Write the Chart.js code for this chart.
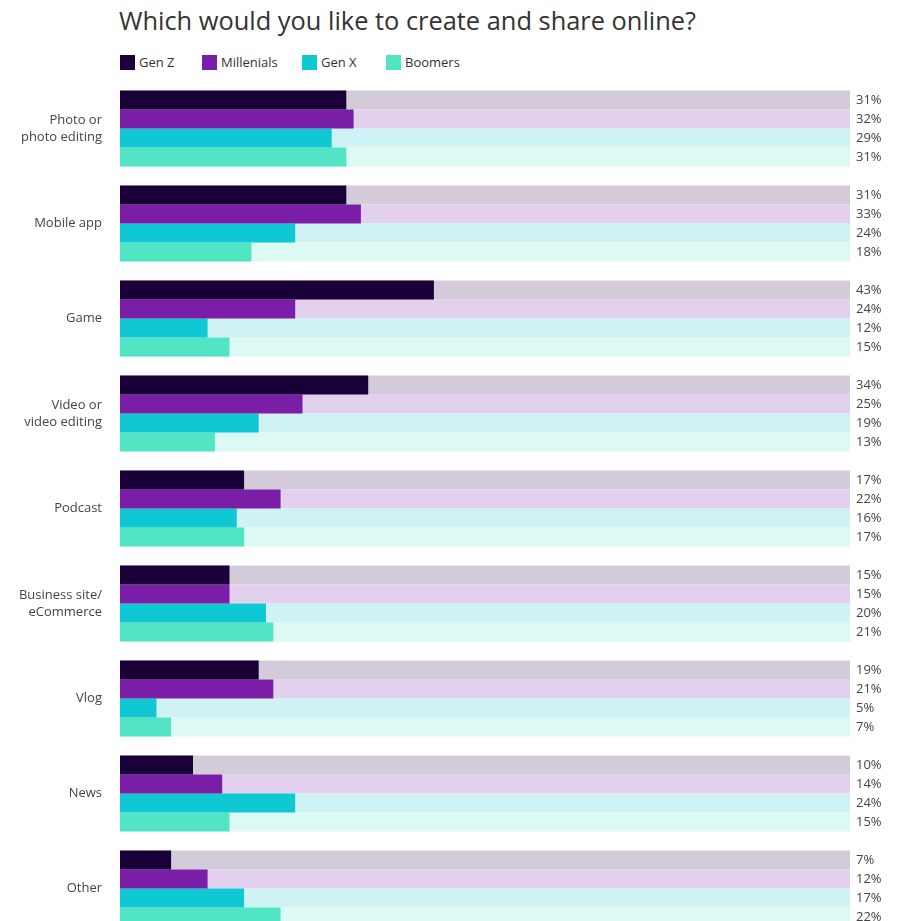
<!DOCTYPE html>
<html>
<head>
<meta charset="utf-8">
<script src="https://cdn.jsdelivr.net/npm/chart.js@4/dist/chart.umd.min.js"></script>
<style>
  html, body { margin: 0; padding: 0; background: #fff; overflow: hidden; }
  #wrap { position: relative; width: 899px; height: 971px; }
  #title { position: absolute; left: 119px; top: 3px; font: 25.4px "Open Sans", sans-serif; color: #333; white-space: nowrap; }
  #legend { position: absolute; left: 120px; top: 53px; font: 13px "Open Sans", sans-serif; color: #333; display: flex; }
  .item { display: flex; align-items: center; }
  .sw { width: 15px; height: 15px; margin-right: 4px; }
  canvas { position: absolute; left: 0; top: 0; }
</style>
</head>
<body>
<div id="wrap">
  <div id="title">Which would you like to create and share online?</div>
  <div id="legend"></div>
  <canvas id="c" width="899" height="971"></canvas>
</div>
<script>
const categories = [
  ['Photo or', 'photo editing'],
  'Mobile app',
  'Game',
  ['Video or', 'video editing'],
  'Podcast',
  ['Business site/', 'eCommerce'],
  'Vlog',
  'News',
  'Other'
];
const seriesNames = ['Gen Z', 'Millenials', 'Gen X', 'Boomers'];
const genZ       = [31, 31, 43, 34, 17, 15, 19, 10, 7];
const millenials = [32, 33, 24, 25, 22, 15, 21, 14, 12];
const genX       = [29, 24, 12, 19, 16, 20, 5, 24, 17];
const boomers    = [31, 18, 15, 13, 17, 21, 7, 15, 22];
const seriesValues = [genZ, millenials, genX, boomers];
const barColors   = ['#1a0038', '#7a1ea8', '#10c8d4', '#52e5c5'];
const trackColors = ['#d3cbd9', '#e3d0ee', '#cff3f4', '#dcf9f3'];
const legendWidths = [82, 100, 84, 100];

// legend
const legend = document.getElementById('legend');
seriesNames.forEach((n, i) => {
  const it = document.createElement('div');
  it.className = 'item';
  it.style.width = legendWidths[i] + 'px';
  const sw = document.createElement('div');
  sw.className = 'sw';
  sw.style.background = barColors[i];
  const t = document.createElement('span');
  t.textContent = n;
  it.appendChild(sw); it.appendChild(t);
  legend.appendChild(it);
});

// full-width tracks behind every bar
const trackPlugin = {
  id: 'tracks',
  beforeDatasetsDraw(chart) {
    const ctx = chart.ctx, area = chart.chartArea;
    ctx.save();
    chart.data.datasets.forEach((ds, di) => {
      const meta = chart.getDatasetMeta(di);
      ctx.fillStyle = trackColors[di];
      meta.data.forEach(el => {
        ctx.fillRect(area.left, el.y - el.height / 2, area.right - area.left, el.height);
      });
    });
    ctx.restore();
  }
};

// percentage labels to the right of the tracks
const valuePlugin = {
  id: 'values',
  afterDatasetsDraw(chart) {
    const ctx = chart.ctx, area = chart.chartArea;
    ctx.save();
    ctx.font = '13px "Open Sans", sans-serif';
    ctx.fillStyle = '#444';
    ctx.textAlign = 'left';
    ctx.textBaseline = 'middle';
    chart.data.datasets.forEach((ds, di) => {
      const meta = chart.getDatasetMeta(di);
      meta.data.forEach((el, i) => {
        ctx.fillText(ds.data[i] + '%', area.right + 6, el.y + 0.5);
      });
    });
    ctx.restore();
  }
};

new Chart(document.getElementById('c'), {
  type: 'bar',
  data: {
    labels: categories,
    datasets: seriesNames.map((n, i) => ({
      label: n,
      data: seriesValues[i],
      backgroundColor: barColors[i],
      borderWidth: 0,
      barPercentage: 1.0,
      categoryPercentage: 0.8
    }))
  },
  options: {
    indexAxis: 'y',
    responsive: false,
    animation: false,
    layout: { padding: { left: 0, right: 49, top: 81, bottom: 3 } },
    scales: {
      x: { display: false, min: 0, max: 100 },
      y: {
        grid: { display: false, drawTicks: false },
        border: { display: false },
        ticks: {
          padding: 18,
          color: '#444',
          font: { family: '"Open Sans", sans-serif', size: 13, lineHeight: 1.3 }
        },
        afterFit(scale) { scale.width = 120; }
      }
    },
    plugins: {
      legend: { display: false },
      tooltip: { enabled: false }
    }
  },
  plugins: [trackPlugin, valuePlugin]
});
</script>
</body>
</html>
